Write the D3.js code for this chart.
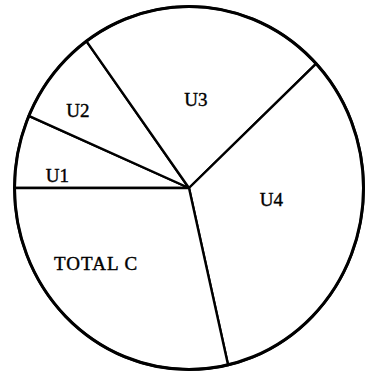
<!DOCTYPE html>
<html>
<head>
<meta charset="utf-8">
<script src="https://cdn.jsdelivr.net/npm/d3@7"></script>
<style>
  html, body { margin: 0; padding: 0; background: #fff; }
  svg { display: block; }
</style>
</head>
<body>
<svg id="chart" width="365" height="374"></svg>
<script>
// Data (percent shares, clockwise starting at 9 o'clock)
const categories = ["U1", "U2", "U3", "U4", "TOTAL C"];
const values = [6.5, 8.5, 23.0, 33.4, 28.6];

// Label placement (fraction of slice angle, fraction of radius)
const labelAngleFrac = [0.23, 0.34, 0.49, 0.425, 0.63];
const labelRadiusFrac = [0.757, 0.766, 0.489, 0.477, 0.676];

const cx = 189, cy = 188, rx = 174.5, ry = 181.5;

const svg = d3.select("#chart");
const data = categories.map((c, i) => ({ name: c, value: values[i] }));

const pie = d3.pie()
  .value(d => d.value)
  .sort(null)
  .startAngle(-Math.PI / 2)
  .endAngle(3 * Math.PI / 2);

const arcs = pie(data);
const arc = d3.arc().innerRadius(0).outerRadius(1);

const g = svg.append("g")
  .attr("transform", `translate(${cx},${cy}) scale(${rx},${ry})`);

g.selectAll("path.slice")
  .data(arcs)
  .join("path")
  .attr("class", "slice")
  .attr("d", arc)
  .attr("fill", "#fff")
  .attr("stroke", "#000")
  .attr("stroke-width", 2.4)
  .attr("stroke-linejoin", "round")
  .attr("vector-effect", "non-scaling-stroke");

// outer rim slightly heavier
g.append("ellipse")
  .attr("cx", 0).attr("cy", 0).attr("rx", 1).attr("ry", 1)
  .attr("fill", "none")
  .attr("stroke", "#000")
  .attr("stroke-width", 3)
  .attr("vector-effect", "non-scaling-stroke");

svg.selectAll("text.lbl")
  .data(arcs)
  .join("text")
  .attr("class", "lbl")
  .attr("x", (d, i) => {
    const a = d.startAngle + (d.endAngle - d.startAngle) * labelAngleFrac[i];
    return cx + Math.sin(a) * labelRadiusFrac[i] * rx;
  })
  .attr("y", (d, i) => {
    const a = d.startAngle + (d.endAngle - d.startAngle) * labelAngleFrac[i];
    return cy - Math.cos(a) * labelRadiusFrac[i] * ry;
  })
  .attr("text-anchor", "middle")
  .attr("dominant-baseline", "central")
  .attr("font-family", "'Liberation Serif', 'DejaVu Serif', serif")
  .attr("font-size", 19)
  .attr("letter-spacing", d => d.data.name === "TOTAL C" ? 1 : 0)
  .attr("fill", "#000")
  .attr("stroke", "#000")
  .attr("stroke-width", 0.4)
  .text(d => d.data.name);
</script>
</body>
</html>
